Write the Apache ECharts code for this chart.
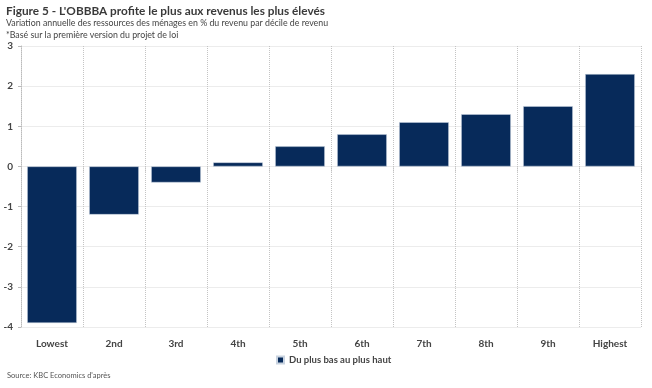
<!DOCTYPE html>
<html><head><meta charset="utf-8">
<script src="https://cdn.jsdelivr.net/npm/echarts@6/dist/echarts.min.js"></script>
<style>html,body{margin:0;padding:0;background:#fff}#c{width:652px;height:388px}</style>
</head><body><div id="c"></div>
<script>
const categories = ['Lowest','2nd','3rd','4th','5th','6th','7th','8th','9th','Highest'];
const values = [-3.9,-1.2,-0.4,0.1,0.5,0.8,1.1,1.3,1.5,2.3];
const yTicks = [-4,-3,-2,-1,0,1,2,3];
const seriesName = 'Du plus bas au plus haut';
const titleText = "Figure 5 - L'OBBBA profite le plus aux revenus les plus élevés";
const subText1 = 'Variation annuelle des ressources des ménages en % du revenu par décile de revenu';
const subText2 = '*Basé sur la première version du projet de loi';
const sourceText = "Source: KBC Economics d'après";

const font = 'Lato, "Open Sans", sans-serif';
const chart = echarts.init(document.getElementById('c'), null, {renderer:'canvas'});
chart.setOption({
  animation:false,
  textStyle:{fontFamily:font},
  graphic:[
    {type:'text', left:6, top:5, style:{text:titleText, font:'bold 11.8px '+font, fill:'#3a3a3a'}},
    {type:'text', left:6, top:19, style:{text:subText1, font:'8.8px '+font, fill:'#444'}},
    {type:'text', left:6, top:31, style:{text:subText2, font:'8.8px '+font, fill:'#444'}},
    {type:'text', left:7, top:372, style:{text:sourceText, font:'7.5px '+font, fill:'#555'}}
  ],
  legend:{
    data:[seriesName], left:271, top:350, itemWidth:7, itemHeight:7, icon:'rect', itemGap:4,
    textStyle:{fontFamily:font, fontSize:9.5, fontWeight:'bold', color:'#444'}
  },
  grid:{left:21, right:11, top:46, bottom:61},
  xAxis:{
    type:'category', data:categories, position:'bottom',
    axisLine:{show:false},
    axisTick:{show:true, length:6, lineStyle:{color:'#bbb', type:'dotted'}},
    axisLabel:{fontFamily:font, fontSize:10, fontWeight:'bold', color:'#444', margin:12},
    splitLine:{show:true, lineStyle:{color:'#c4c4c4', type:'dotted', width:1}}
  },
  yAxis:{
    type:'value', min:yTicks[0], max:yTicks[yTicks.length-1], interval:1,
    axisLine:{show:true, onZero:false, lineStyle:{color:'#bbb', type:'dotted'}},
    axisTick:{show:true, length:3, lineStyle:{color:'#bbb'}},
    axisLabel:{fontFamily:font, fontSize:10, fontWeight:'bold', color:'#444', margin:8},
    splitLine:{show:true, lineStyle:{color:'#ececec', width:1}}
  },
  series:[{
    name:seriesName, type:'bar', data:values, barWidth:'80%',
    itemStyle:{color:'#072a5a', borderColor:'#c9d3e0', borderWidth:0.5}
  }]
});
</script></body></html>
